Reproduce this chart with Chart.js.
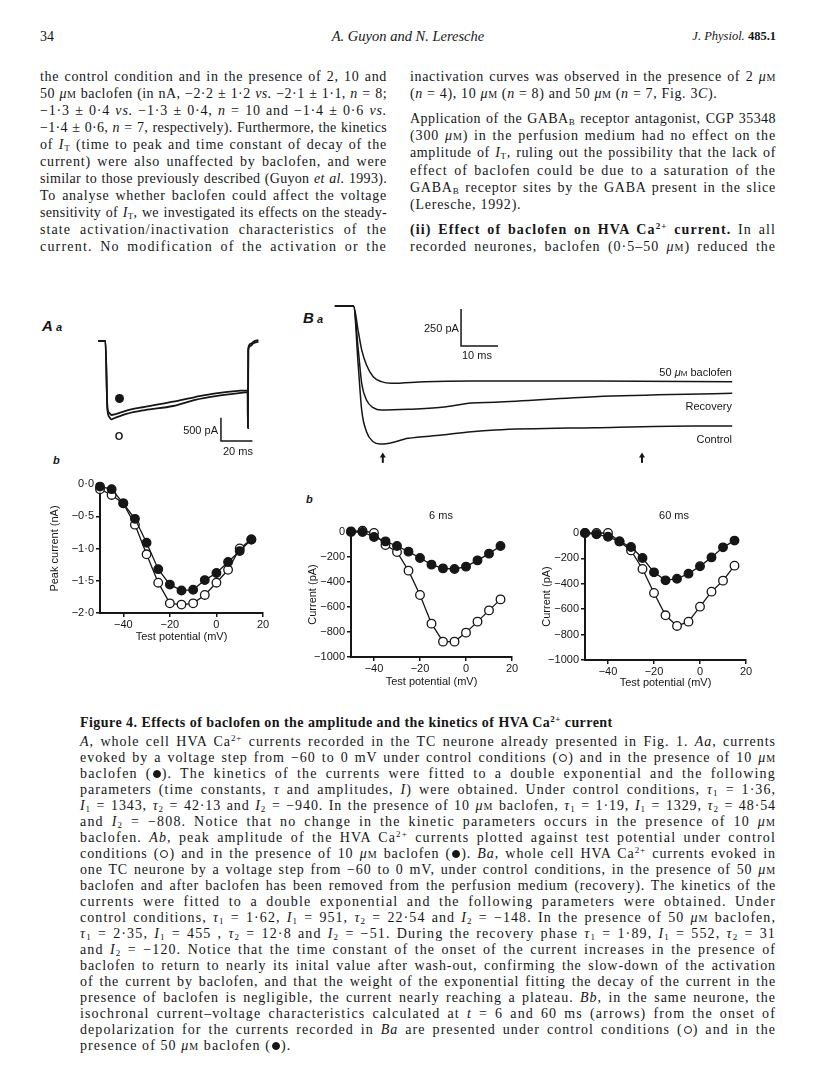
<!DOCTYPE html>
<html>
<head>
<meta charset="utf-8">
<script src="https://cdn.jsdelivr.net/npm/chart.js@4/dist/chart.umd.min.js"></script>
<style>
  html, body { margin: 0; padding: 0; background: #fff; }
  body { width: 816px; height: 1088px; position: relative; overflow: hidden;
         font-family: "Liberation Serif", serif; color: #161616; }
  .t { position: absolute; font-size: 14px; line-height: 17px; }
  .j { text-align: justify; text-align-last: justify; }
  .sc { font-variant: small-caps; }
  sub, sup { font-size: 9px; line-height: 0; }
  sub { vertical-align: -2px; }
  sup { vertical-align: 5px; }
  .oc, .fc { display: inline-block; width: 8px; height: 8px; border-radius: 50%; border: 1.2px solid #161616;
             box-sizing: border-box; vertical-align: -0.5px; margin: 0 1px; letter-spacing: 0; }
  .fc { background: #161616; }
  .fig { position: absolute; font-family: "Liberation Sans", Arial, sans-serif; font-size: 11px;
         line-height: 12px; white-space: nowrap; color: #161616; }
  canvas { position: absolute; }
</style>
</head>
<body>
<canvas id="aa"></canvas>
<canvas id="ba"></canvas>
<canvas id="ab"></canvas>
<canvas id="bb6"></canvas>
<canvas id="bb60"></canvas>
<script>
// ---- values ----
const testPotential = [-50, -45, -40, -35, -30, -25, -20, -15, -10, -5, 0, 5, 10, 15];
const potentialTicks = [-40, -20, 0, 20];

// Ab: peak current (nA)
const peakControl   = [-0.08, -0.17, -0.30, -0.63, -1.09, -1.53, -1.85, -1.87, -1.85, -1.72, -1.53, -1.33, -1.00, -0.86];
const peakBaclofen  = [-0.04, -0.08, -0.30, -0.54, -0.91, -1.32, -1.56, -1.65, -1.64, -1.49, -1.38, -1.21, -1.04, -0.86];
const peakTicks = [0, -0.5, -1, -1.5, -2];

// Bb: isochronal currents (pA) at 6 ms and 60 ms
const i6Control    = [5, 10, -8, -104, -160, -309, -504, -733, -877, -877, -805, -717, -627, -539];
const i6Baclofen   = [0, 0, -40, -75, -112, -157, -208, -261, -291, -296, -277, -227, -173, -112];
const i60Control   = [0, 0, 0, -66, -137, -283, -472, -648, -732, -698, -580, -462, -375, -257];
const i60Baclofen  = [0, -10, -30, -66, -110, -197, -310, -373, -360, -320, -262, -192, -113, -60];
const currentTicks = [0, -200, -400, -600, -800, -1000];

// Aa: current traces (ms, pA)
const aaControlTime     = [-4.7, -0.4, 0, 1.3, 2.5, 3.8, 5.9, 13.4, 25, 43, 57, 70, 86, 90.4, 90.5, 90.7, 92, 94, 97.2];
const aaControlCurrent  = [0, 0, 0, -1478, -1627, -1677, -1649, -1560, -1480, -1392, -1260, -1180, -1110, -1095, -1863, -193, -110, -50, -15];
const aaBaclofenTime    = [-4.7, -0.4, 0, 1.3, 2.5, 3.8, 5.9, 13.4, 25, 43, 57, 70, 86, 90.4, 90.5, 90.8, 92.2, 94.2, 97.2];
const aaBaclofenCurrent = [0, 0, 0, -1435, -1542, -1585, -1574, -1490, -1410, -1300, -1200, -1120, -1064, -1058, -1863, -150, -60, -10, 20];
const aaScaleBar = [[73.4, -1641], [73.4, -2141], [93.4, -2141]];   // 500 pA / 20 ms

// Ba: current traces (ms, pA)
const baControlTime     = [-4, -0.1, 0.9, 1.6, 2.6, 4.0, 5.4, 6.1, 11.3, 18.3, 24.5, 29.4, 50.2, 71, 78.8];
const baControlCurrent  = [0, 0, -410, -703, -849, -917, -932, -932, -894, -872, -849, -838, -822, -811, -811];
const baRecoveryTime    = [-4, -0.1, 0.9, 1.6, 2.6, 4.0, 5.7, 11.3, 18.3, 24.5, 29.4, 50.2, 78.8];
const baRecoveryCurrent = [0, 0, -300, -522, -635, -687, -703, -698, -684, -655, -650, -613, -590];
const baBaclofenTime    = [-4, -0.1, 0.9, 1.6, 2.6, 4.0, 5.7, 7.8, 14.8, 24.5, 50.2, 78.8];
const baBaclofenCurrent = [0, 0, -174, -297, -399, -478, -511, -522, -511, -507, -507, -511];
const baScaleBar = [[22.3, -20], [22.3, -270], [30, -270]];         // 250 pA / 10 ms
const baArrowTimes = [6, 60];

const INK = '#161616';
Chart.defaults.font.family = '"Liberation Sans", Arial, sans-serif';
Chart.defaults.color = INK;

function pts(xs, ys) { return xs.map((x, i) => ({ x: x, y: ys[i] })); }

// scale bars and arrows for the raw traces
const annotPlugin = {
  id: 'annot',
  afterDatasetsDraw(chart, args, opts) {
    const { ctx, scales: { x, y } } = chart;
    ctx.save();
    ctx.strokeStyle = INK;
    ctx.fillStyle = INK;
    ctx.lineWidth = 1.5;
    if (opts.bar) {
      ctx.beginPath();
      opts.bar.forEach((p, i) => {
        const px = x.getPixelForValue(p[0]), py = y.getPixelForValue(p[1]);
        if (i) ctx.lineTo(px, py); else ctx.moveTo(px, py);
      });
      ctx.stroke();
    }
    (opts.arrows || []).forEach(t => {
      const px = x.getPixelForValue(t);
      const y0 = y.getPixelForValue(opts.arrowFrom), y1 = y.getPixelForValue(opts.arrowTo);
      ctx.lineWidth = 2;
      ctx.beginPath(); ctx.moveTo(px, y0); ctx.lineTo(px, y1 + 3); ctx.stroke();
      ctx.beginPath(); ctx.moveTo(px, y1); ctx.lineTo(px - 3, y1 + 5); ctx.lineTo(px + 3, y1 + 5); ctx.closePath(); ctx.fill();
    });
    ctx.restore();
  }
};

function traceChart(id, box, xr, yr, sets, annot) {
  const c = document.getElementById(id);
  c.style.left = box.l + 'px';
  c.style.top = box.t + 'px';
  c.width = box.w;
  c.height = box.h;
  new Chart(c, {
    type: 'line',
    data: {
      datasets: sets.map(s => ({
        data: pts(s[0], s[1]),
        borderColor: INK,
        borderWidth: box.lw,
        pointRadius: 0,
        cubicInterpolationMode: 'monotone',
        fill: false,
        clip: false
      }))
    },
    options: {
      responsive: false,
      animation: false,
      events: [],
      devicePixelRatio: 1,
      layout: { padding: 6 },
      plugins: { legend: { display: false }, tooltip: { enabled: false }, annot: annot },
      scales: {
        x: { type: 'linear', display: false, min: xr[0], max: xr[1] },
        y: { type: 'linear', display: false, min: yr[0], max: yr[1] }
      }
    },
    plugins: [annotPlugin]
  });
}

function fmtNum(v, dec) {
  const s = Math.abs(v).toFixed(dec).replace('.', '·');
  return (v < 0 ? '−' : '') + s;
}

function ivChart(id, box, control, baclofen, yTicks, dec, yTitle) {
  const lh = 13.2;
  const left = Math.round(box.yTitleX - lh / 2);
  const top = Math.round(box.areaT - 16);
  const right = Math.round(box.areaR + 22);
  const bottom = Math.round(box.xTitleY + lh / 2);
  const c = document.getElementById(id);
  c.style.left = left + 'px';
  c.style.top = top + 'px';
  c.width = right - left;
  c.height = bottom - top;
  const pointStyle = (fillCol) => ({
    borderColor: INK, borderWidth: 1.3, pointRadius: 4.3, pointBorderWidth: 1.3,
    pointBorderColor: INK, pointBackgroundColor: fillCol, backgroundColor: fillCol,
    tension: 0, fill: false, clip: false
  });
  const axisCommon = {
    type: 'linear',
    border: { display: true, color: INK, width: 2 },
    grid: { display: true, drawOnChartArea: false, drawTicks: true, tickLength: 4, color: INK, lineWidth: 1.5 },
  };
  new Chart(c, {
    type: 'line',
    data: {
      datasets: [
        Object.assign({ data: pts(testPotential, baclofen) }, pointStyle(INK)),
        Object.assign({ data: pts(testPotential, control) }, pointStyle('#fff'))
      ]
    },
    options: {
      responsive: false,
      animation: false,
      events: [],
      devicePixelRatio: 1,
      layout: { padding: { top: box.areaT - top, right: right - box.areaR, left: 0, bottom: 0 } },
      plugins: { legend: { display: false }, tooltip: { enabled: false } },
      scales: {
        x: Object.assign({}, axisCommon, {
          min: -50, max: 20,
          afterBuildTicks: s => { s.ticks = potentialTicks.map(v => ({ value: v })); },
          afterFit: s => { s.height = bottom - box.areaB; },
          ticks: { font: { size: 11 }, color: INK, padding: 1, maxRotation: 0, callback: v => fmtNum(v, 0) },
          title: { display: true, text: 'Test potential (mV)', font: { size: 11 }, color: INK, padding: 0 }
        }),
        y: Object.assign({}, axisCommon, {
          min: yTicks[yTicks.length - 1], max: yTicks[0],
          afterBuildTicks: s => { s.ticks = yTicks.map(v => ({ value: v })); },
          afterFit: s => { s.width = box.areaL - left; },
          ticks: { font: { size: 11 }, color: INK, padding: 2, callback: v => fmtNum(v, dec) },
          title: { display: true, text: yTitle, font: { size: 11 }, color: INK, padding: 0 }
        })
      }
    }
  });
}

traceChart('aa', { l: 92, t: 329, w: 174, h: 122, lw: 1.8 }, [-4.7, 98.2], [-2227, 128],
  [[aaControlTime, aaControlCurrent], [aaBaclofenTime, aaBaclofenCurrent]],
  { bar: aaScaleBar });

traceChart('ba', { l: 329, t: 294, w: 409, h: 172, lw: 1.5 }, [-3.96, 78.75], [-1040.5, 40.5],
  [[baControlTime, baControlCurrent], [baRecoveryTime, baRecoveryCurrent], [baBaclofenTime, baBaclofenCurrent]],
  { bar: baScaleBar, arrows: baArrowTimes, arrowFrom: -1060, arrowTo: -990 });

ivChart('ab', { areaL: 100, areaT: 484, areaR: 263, areaB: 613, xTitleY: 637, yTitleX: 55 },
  peakControl, peakBaclofen, peakTicks, 1, 'Peak current (nA)');
ivChart('bb6', { areaL: 351, areaT: 532, areaR: 512, areaB: 657, xTitleY: 682, yTitleX: 313 },
  i6Control, i6Baclofen, currentTicks, 0, 'Current (pA)');
ivChart('bb60', { areaL: 585, areaT: 533, areaR: 746, areaB: 660, xTitleY: 683, yTitleX: 547 },
  i60Control, i60Baclofen, currentTicks, 0, 'Current (pA)');

// ---- page text ----
function fmt(s) {
  return s
    .replace(/μM/g, '<i>μ</i><span class="sc">m</span>')
    .replace(/Ca2\+/g, 'Ca<sup>2+</sup>')
    .replace(/τ([12])/g, '<i>τ</i><sub>$1</sub>')
    .replace(/I([12T])\b/g, '<i>I</i><sub>$1</sub>')
    .replace(/I_T/g, '<i>I</i><sub>T</sub>')
    .replace(/GABA_B/g, 'GABA<sub>B</sub>')
    .replace(/○/g, '<span class="oc"></span>')
    .replace(/●/g, '<span class="fc"></span>');
}

function addText(html, left, cy, width, cls) {
  const d = document.createElement('div');
  d.className = 't ' + (cls || '');
  d.style.left = left + 'px';
  d.style.top = (cy - 9) + 'px';
  if (width) d.style.width = width + 'px';
  d.innerHTML = fmt(html);
  document.body.appendChild(d);
  return d;
}

// spread a justified line partly through letter spacing, the rest through word gaps
function fitLine(d, width) {
  d.style.textAlign = 'left';
  d.style.textAlignLast = 'left';
  const s = document.createElement('span');
  s.style.whiteSpace = 'nowrap';
  s.innerHTML = d.innerHTML;
  d.innerHTML = '';
  d.appendChild(s);
  const w = s.getBoundingClientRect().width;
  d.innerHTML = s.innerHTML;
  d.style.textAlign = '';
  d.style.textAlignLast = '';
  let ls = Math.max(-0.8, Math.min(1.2, (width - w) / d.textContent.length * 0.75));
  d.style.letterSpacing = ls + 'px';
  while (d.getBoundingClientRect().height > 20 && ls > -2) {
    ls -= 0.05;
    d.style.letterSpacing = ls + 'px';
  }
  return ls;
}

// lines: [text, justify]
function addBlock(lines, left, ys, width) {
  let ls = 0.3;
  lines.forEach((ln, i) => {
    if (ln[1]) {
      const d = addText(ln[0], left, ys[i], width, 'j');
      ls = fitLine(d, width);
    } else {
      const d = addText(ln[0], left, ys[i], null, '');
      d.style.whiteSpace = 'nowrap';
      d.style.letterSpacing = ls + 'px';
    }
  });
}

// header
addText('34', 40, 37, null, '');
const hd = addText('<i>A. Guyon and N. Leresche</i>', 0, 37, 816, '');
hd.style.textAlign = 'center';
hd.style.fontSize = '14.5px';
const jp = addText('<i>J. Physiol.</i> <b>485.1</b>', 576, 37, 200, '');
jp.style.textAlign = 'right';
jp.style.fontSize = '12.5px';

const leftCol = [
  ['the control condition and in the presence of 2, 10 and', 1],
  ['50 μM baclofen (in nA, −2·2 ± 1·2 <i>vs.</i> −2·1 ± 1·1, <i>n</i> = 8;', 1],
  ['−1·3 ± 0·4 <i>vs.</i> −1·3 ± 0·4, <i>n</i> = 10 and −1·4 ± 0·6 <i>vs.</i>', 1],
  ['−1·4 ± 0·6, <i>n</i> = 7, respectively). Furthermore, the kinetics', 1],
  ['of I_T (time to peak and time constant of decay of the', 1],
  ['current) were also unaffected by baclofen, and were', 1],
  ['similar to those previously described (Guyon <i>et al.</i> 1993).', 1],
  ['To analyse whether baclofen could affect the voltage', 1],
  ['sensitivity of I_T, we investigated its effects on the steady-', 1],
  ['state activation/inactivation characteristics of the', 1],
  ['current. No modification of the activation or the', 1]
];
addBlock(leftCol, 40, leftCol.map((l, i) => 77 + 17 * i), 347);

const rightCol = [
  ['inactivation curves was observed in the presence of 2 μM', 1],
  ['(<i>n</i> = 4), 10 μM (<i>n</i> = 8) and 50 μM (<i>n</i> = 7, Fig. 3<i>C</i>).', 0],
  ['Application of the GABA_B receptor antagonist, CGP 35348', 1],
  ['(300 μM) in the perfusion medium had no effect on the', 1],
  ['amplitude of I_T, ruling out the possibility that the lack of', 1],
  ['effect of baclofen could be due to a saturation of the', 1],
  ['GABA_B receptor sites by the GABA present in the slice', 1],
  ['(Leresche, 1992).', 0],
  ['<b>(ii) Effect of baclofen on HVA Ca2+ current.</b> In all', 1],
  ['recorded neurones, baclofen (0·5–50 μM) reduced the', 1]
];
addBlock(rightCol, 410, [77, 94, 119, 136, 153, 171, 188, 205, 230, 247], 366);

// caption
const ttl = addText('<b>Figure 4. Effects of baclofen on the amplitude and the kinetics of HVA Ca2+ current</b>', 80, 723, null, '');
ttl.style.whiteSpace = 'nowrap';
ttl.style.letterSpacing = '0.45px';
const caption = [
  ['<i>A</i>, whole cell HVA Ca2+ currents recorded in the TC neurone already presented in Fig. 1. <i>Aa</i>, currents', 1],
  ['evoked by a voltage step from −60 to 0 mV under control conditions (○) and in the presence of 10 μM', 1],
  ['baclofen (●). The kinetics of the currents were fitted to a double exponential and the following', 1],
  ['parameters (time constants, <i>τ</i> and amplitudes, <i>I</i>) were obtained. Under control conditions, τ1 = 1·36,', 1],
  ['I1 = 1343, τ2 = 42·13 and I2 = −940. In the presence of 10 μM baclofen, τ1 = 1·19, I1 = 1329, τ2 = 48·54', 1],
  ['and I2 = −808. Notice that no change in the kinetic parameters occurs in the presence of 10 μM', 1],
  ['baclofen. <i>Ab</i>, peak amplitude of the HVA Ca2+ currents plotted against test potential under control', 1],
  ['conditions (○) and in the presence of 10 μM baclofen (●). <i>Ba</i>, whole cell HVA Ca2+ currents evoked in', 1],
  ['one TC neurone by a voltage step from −60 to 0 mV, under control conditions, in the presence of 50 μM', 1],
  ['baclofen and after baclofen has been removed from the perfusion medium (recovery). The kinetics of the', 1],
  ['currents were fitted to a double exponential and the following parameters were obtained. Under', 1],
  ['control conditions, τ1 = 1·62, I1 = 951, τ2 = 22·54 and I2 = −148. In the presence of 50 μM baclofen,', 1],
  ['τ1 = 2·35, I1 = 455 , τ2 = 12·8 and I2 = −51. During the recovery phase τ1 = 1·89, I1 = 552, τ2 = 31', 1],
  ['and I2 = −120. Notice that the time constant of the onset of the current increases in the presence of', 1],
  ['baclofen to return to nearly its inital value after wash-out, confirming the slow-down of the activation', 1],
  ['of the current by baclofen, and that the weight of the exponential fitting the decay of the current in the', 1],
  ['presence of baclofen is negligible, the current nearly reaching a plateau. <i>Bb</i>, in the same neurone, the', 1],
  ['isochronal current–voltage characteristics calculated at <i>t</i> = 6 and 60 ms (arrows) from the onset of', 1],
  ['depolarization for the currents recorded in <i>Ba</i> are presented under control conditions (○) and in the', 1],
  ['presence of 50 μM baclofen (●).', 0]
];
addBlock(caption, 80, caption.map((l, i) => 741.5 + 16 * i), 696);

// ---- figure lettering ----
function figText(html, x, cy, align, extra) {
  const d = document.createElement('div');
  d.className = 'fig';
  d.innerHTML = html;
  d.style.top = (cy - 6) + 'px';
  document.body.appendChild(d);
  const w = d.getBoundingClientRect().width;
  d.style.left = (align === 'right' ? x - w : align === 'center' ? x - w / 2 : x) + 'px';
  if (extra) Object.assign(d.style, extra);
  return d;
}
figText('<b><i style="font-size:15px">A</i></b> <b><i>a</i></b>', 42, 326, 'left');
figText('<b><i style="font-size:15px">B</i></b> <b><i>a</i></b>', 303, 318, 'left');
figText('<b><i>b</i></b>', 53, 460, 'left');
figText('<b><i>b</i></b>', 306, 499, 'left');
figText('6 ms', 441, 515, 'center');
figText('60 ms', 674, 515, 'center');
figText('500 pA', 218, 430, 'right');
figText('20 ms', 223, 451, 'left');
figText('250 pA', 424, 328, 'left');
figText('10 ms', 462, 355, 'left');
figText('50 <i>μ</i><span class="sc">m</span> baclofen', 732, 372, 'right');
figText('Recovery', 732, 406, 'right');
figText('Control', 732, 439, 'right');
figText('<span style="display:inline-block;width:9px;height:9px;border-radius:50%;background:#161616"></span>', 115, 399, 'left');
figText('<b>O</b>', 119, 436, 'center');
</script>
</body>
</html>
